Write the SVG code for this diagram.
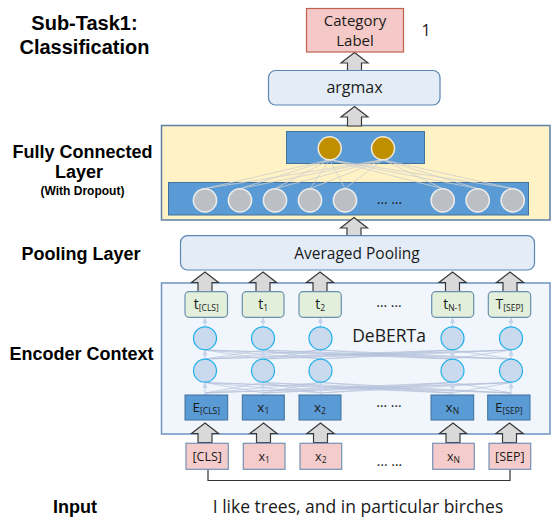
<svg xmlns="http://www.w3.org/2000/svg" xmlns:xlink="http://www.w3.org/1999/xlink" width="552" height="519" viewBox="0 0 552 519">
<style>
.lbl{font-family:"Liberation Sans","Open Sans",sans-serif;font-weight:700;fill:#000;text-anchor:middle}
.t{font-family:"Open Sans","Liberation Sans",sans-serif;fill:#1a1a1a;text-anchor:middle}
.sub{font-size:8.5px}
.rbox{fill:#e4edf7;stroke:#5b86b5;stroke-width:1.2}
.blue{fill:#5b9bd5;stroke:#41719c;stroke-width:1}
.gray{fill:#bcc0c5;stroke:#ececec;stroke-width:1.5}
.gold{fill:#bf8f00;stroke:#f2ead8;stroke-width:1.5}
.green{fill:#e2efda;stroke:#6b8fae;stroke-width:1.2}
.pink{fill:#f4cccc;stroke:#7392b6;stroke-width:1.2}
.enc{fill:#c9d9ee;stroke:#1fb0ea;stroke-width:1.2}
.barrow{fill:#d9d9d9;stroke:#3a3a3a;stroke-width:1.2}
.fcl{fill:none;stroke:#cfcfcf;stroke-width:0.8}
.xl{fill:none;stroke:#b4c1da;stroke-width:0.8;opacity:0.85}
.va{stroke:#c4d3ea;stroke-width:1.2;marker-end:url(#sm)}
</style>
<defs>
<path id="ba" class="barrow" d="M0,0 L13.5,10.5 L7,10.5 L7,19.5 L-7,19.5 L-7,10.5 L-13.5,10.5 Z"/>
<marker id="sm" markerWidth="6" markerHeight="6" refX="3" refY="3" orient="auto" markerUnits="userSpaceOnUse">
<path d="M0,0.5 L6,3 L0,5.5 Z" fill="#c4d3ea"/>
</marker>
</defs>

<!-- left labels -->
<g id="labels">
<text class="lbl" x="84.5" y="29.5" font-size="20">Sub-Task1:</text>
<text class="lbl" x="84.5" y="53.5" font-size="20">Classification</text>
<text class="lbl" x="82.5" y="157.8" font-size="18">Fully Connected</text>
<text class="lbl" x="79" y="178.3" font-size="18">Layer</text>
<text class="lbl" x="82.5" y="194.8" font-size="12">(With Dropout)</text>
<text class="lbl" x="81" y="259.5" font-size="18">Pooling Layer</text>
<text class="lbl" x="81.5" y="360" font-size="18">Encoder Context</text>
<text class="lbl" x="75" y="512.5" font-size="18">Input</text>
</g>

<!-- containers -->
<g id="fc-layer">
<rect x="161.5" y="125.5" width="388.5" height="94.5" fill="#fff2c5" stroke="#5e7fa7" stroke-width="1.5"/>
<rect class="blue" x="286.5" y="131.5" width="138" height="32"/>
<rect class="blue" x="168.5" y="182.5" width="360" height="32.5"/>
</g>
<g id="encoder">
<rect x="161.5" y="283" width="388.5" height="151" fill="#f1f5fc" stroke="#6f93c2" stroke-width="1.5"/>
<text class="t" x="389" y="342" font-size="17.5" fill="#111">DeBERTa</text>
</g>

<g id="connectors">
<!-- FC lines -->
<path class="fcl" d="M329.7 159.8L205 188.6M329.7 159.8L240 188.6M329.7 159.8L275 188.6M329.7 159.8L310 188.6M329.7 159.8L345 188.6M329.7 159.8L442.7 188.6M329.7 159.8L477.7 188.6M329.7 159.8L512.7 188.6M383 159.8L205 188.6M383 159.8L240 188.6M383 159.8L275 188.6M383 159.8L310 188.6M383 159.8L345 188.6M383 159.8L442.7 188.6M383 159.8L477.7 188.6M383 159.8L512.7 188.6"/>
<!-- encoder cross lines -->
<path class="xl" d="M205 359L263 350M205 359L320.5 350M205 359L452.5 350M205 359L511 350M263 359L205 350M263 359L320.5 350M263 359L452.5 350M263 359L511 350M320.5 359L205 350M320.5 359L263 350M320.5 359L452.5 350M320.5 359L511 350M452.5 359L205 350M452.5 359L263 350M452.5 359L320.5 350M452.5 359L511 350M511 359L205 350M511 359L263 350M511 359L320.5 350M511 359L452.5 350"/>
<path class="xl" d="M205 393L263 382.5M205 393L320.5 382.5M205 393L452.5 382.5M205 393L511 382.5M263 393L205 382.5M263 393L320.5 382.5M263 393L452.5 382.5M263 393L511 382.5M320.5 393L205 382.5M320.5 393L263 382.5M320.5 393L452.5 382.5M320.5 393L511 382.5M452.5 393L205 382.5M452.5 393L263 382.5M452.5 393L320.5 382.5M452.5 393L511 382.5M511 393L205 382.5M511 393L263 382.5M511 393L320.5 382.5M511 393L452.5 382.5"/>
<!-- small vertical arrows -->
<line class="va" x1="205" y1="326.5" x2="205" y2="320"/>
<line class="va" x1="263" y1="326.5" x2="263" y2="320"/>
<line class="va" x1="320.5" y1="326.5" x2="320.5" y2="320"/>
<line class="va" x1="452.5" y1="326.5" x2="452.5" y2="320"/>
<line class="va" x1="511" y1="326.5" x2="511" y2="320"/>
<line class="va" x1="205" y1="359" x2="205" y2="352.5"/>
<line class="va" x1="263" y1="359" x2="263" y2="352.5"/>
<line class="va" x1="320.5" y1="359" x2="320.5" y2="352.5"/>
<line class="va" x1="452.5" y1="359" x2="452.5" y2="352.5"/>
<line class="va" x1="511" y1="359" x2="511" y2="352.5"/>
<line class="va" x1="205" y1="395" x2="205" y2="385"/>
<line class="va" x1="263" y1="395" x2="263" y2="385"/>
<line class="va" x1="320.5" y1="395" x2="320.5" y2="385"/>
<line class="va" x1="452.5" y1="395" x2="452.5" y2="385"/>
<line class="va" x1="511" y1="395" x2="511" y2="385"/>
<!-- block arrows -->
<use xlink:href="#ba" x="354.5" y="52.5"/>
<use xlink:href="#ba" x="354.5" y="106.5"/>
<use xlink:href="#ba" x="354" y="217.5"/>
<use xlink:href="#ba" x="205" y="272"/>
<use xlink:href="#ba" x="263" y="272"/>
<use xlink:href="#ba" x="320" y="272"/>
<use xlink:href="#ba" x="452.5" y="272"/>
<use xlink:href="#ba" x="510" y="272"/>
<use xlink:href="#ba" x="205" y="423"/>
<use xlink:href="#ba" x="263.5" y="423"/>
<use xlink:href="#ba" x="320.5" y="423"/>
<use xlink:href="#ba" x="453" y="423"/>
<use xlink:href="#ba" x="509.5" y="423"/>
<!-- input bracket -->
<path d="M208 469.5V480.5H510V469.5" fill="none" stroke="#333" stroke-width="1.2"/>
</g>

<!-- top -->
<g id="category-label">
<rect x="306.5" y="8.5" width="97" height="43.5" fill="#f4c9c7" stroke="#c0604d" stroke-width="1.2"/>
<text class="t" x="355" y="25.5" font-size="15">Category</text>
<text class="t" x="355" y="46" font-size="15">Label</text>
<text class="t" x="426" y="36" font-size="16">1</text>
</g>
<g id="argmax">
<rect class="rbox" x="268.5" y="70.5" width="171.5" height="34.5" rx="7"/>
<text class="t" x="354.5" y="93" font-size="16">argmax</text>
</g>

<!-- FC neurons -->
<g id="fc-out">
<circle class="gold" cx="329.7" cy="148.3" r="11.5"/>
<circle class="gold" cx="383" cy="148.3" r="11.5"/>
</g>
<g id="fc-in">
<circle class="gray" cx="205" cy="200.3" r="11.6"/>
<circle class="gray" cx="240" cy="200.3" r="11.6"/>
<circle class="gray" cx="275" cy="200.3" r="11.6"/>
<circle class="gray" cx="310" cy="200.3" r="11.6"/>
<circle class="gray" cx="345" cy="200.3" r="11.6"/>
<text class="t" x="389.5" y="203.5" font-size="14" fill="#111">… …</text>
<circle class="gray" cx="442.7" cy="200.3" r="11.6"/>
<circle class="gray" cx="477.7" cy="200.3" r="11.6"/>
<circle class="gray" cx="512.7" cy="200.3" r="11.6"/>
</g>

<g id="pooling">
<rect class="rbox" x="180.5" y="235.7" width="354" height="34.3" rx="7"/>
<text class="t" x="357" y="259" font-size="15.5">Averaged Pooling</text>
</g>

<!-- token outputs -->
<g id="t-row">
<rect class="green" x="185" y="291.7" width="42.5" height="25.6" rx="4"/>
<text class="t" x="206.3" y="309" font-size="14">t<tspan class="sub" dy="1.5">[CLS]</tspan></text>
<rect class="green" x="242.3" y="291.7" width="41.7" height="25.6" rx="4"/>
<text class="t" x="263.2" y="309" font-size="14">t<tspan class="sub" dy="1.5">1</tspan></text>
<rect class="green" x="299" y="291.7" width="42.3" height="25.6" rx="4"/>
<text class="t" x="320.2" y="309" font-size="14">t<tspan class="sub" dy="1.5">2</tspan></text>
<text class="t" x="389" y="307" font-size="14" fill="#111">… …</text>
<rect class="green" x="431.7" y="291.7" width="42" height="25.6" rx="4"/>
<text class="t" x="452.7" y="309" font-size="14">t<tspan class="sub" dy="1.5">N-1</tspan></text>
<rect class="green" x="488.3" y="291.7" width="42.4" height="25.6" rx="4"/>
<text class="t" x="509.5" y="309" font-size="14">T<tspan class="sub" dy="1.5">[SEP]</tspan></text>
</g>

<g id="enc-row1">
<circle class="enc" cx="205" cy="338.3" r="11.5"/>
<circle class="enc" cx="263" cy="338.3" r="11.5"/>
<circle class="enc" cx="320.5" cy="338.3" r="11.5"/>
<circle class="enc" cx="452.5" cy="338.3" r="11.5"/>
<circle class="enc" cx="511" cy="338.3" r="11.5"/>
</g>
<g id="enc-row2">
<circle class="enc" cx="205" cy="370.7" r="11.5"/>
<circle class="enc" cx="263" cy="370.7" r="11.5"/>
<circle class="enc" cx="320.5" cy="370.7" r="11.5"/>
<circle class="enc" cx="452.5" cy="370.7" r="11.5"/>
<circle class="enc" cx="511" cy="370.7" r="11.5"/>
</g>

<g id="e-row">
<rect class="blue" x="185" y="395" width="42.7" height="25"/>
<text class="t" x="206.3" y="412" font-size="13.5">E<tspan class="sub" dy="1.5">[CLS]</tspan></text>
<rect class="blue" x="242.3" y="395" width="42" height="25"/>
<text class="t" x="263.3" y="412" font-size="13.5">x<tspan class="sub" dy="1.5">1</tspan></text>
<rect class="blue" x="299" y="395" width="42" height="25"/>
<text class="t" x="320" y="412" font-size="13.5">x<tspan class="sub" dy="1.5">2</tspan></text>
<text class="t" x="389" y="407" font-size="14" fill="#111">… …</text>
<rect class="blue" x="431" y="395" width="42.7" height="25"/>
<text class="t" x="452.3" y="412" font-size="13.5">x<tspan class="sub" dy="1.5">N</tspan></text>
<rect class="blue" x="487.7" y="395" width="42.3" height="25"/>
<text class="t" x="508.8" y="412" font-size="13.5">E<tspan class="sub" dy="1.5">[SEP]</tspan></text>
</g>

<g id="input-row">
<rect class="pink" x="186" y="443.3" width="42.3" height="26"/>
<text class="t" x="207.2" y="461" font-size="12.5" fill="#333">[CLS]</text>
<rect class="pink" x="243.3" y="443.3" width="41.7" height="26"/>
<text class="t" x="264.2" y="461" font-size="12.5" fill="#333">x<tspan class="sub" dy="1.5">1</tspan></text>
<rect class="pink" x="300" y="443.3" width="41.7" height="26"/>
<text class="t" x="320.8" y="461" font-size="12.5" fill="#333">x<tspan class="sub" dy="1.5">2</tspan></text>
<text class="t" x="389.5" y="466" font-size="14" fill="#111">… …</text>
<rect class="pink" x="432.7" y="443.3" width="41.6" height="26"/>
<text class="t" x="453.5" y="461" font-size="12.5" fill="#333">x<tspan class="sub" dy="1.5">N</tspan></text>
<rect class="pink" x="489" y="443.3" width="41.7" height="26"/>
<text class="t" x="509.8" y="461" font-size="12.5" fill="#333">[SEP]</text>
</g>

<g id="sentence">
<text class="t" x="358" y="513" font-size="17.5" fill="#111">I like trees, and in particular birches</text>
</g>
</svg>
